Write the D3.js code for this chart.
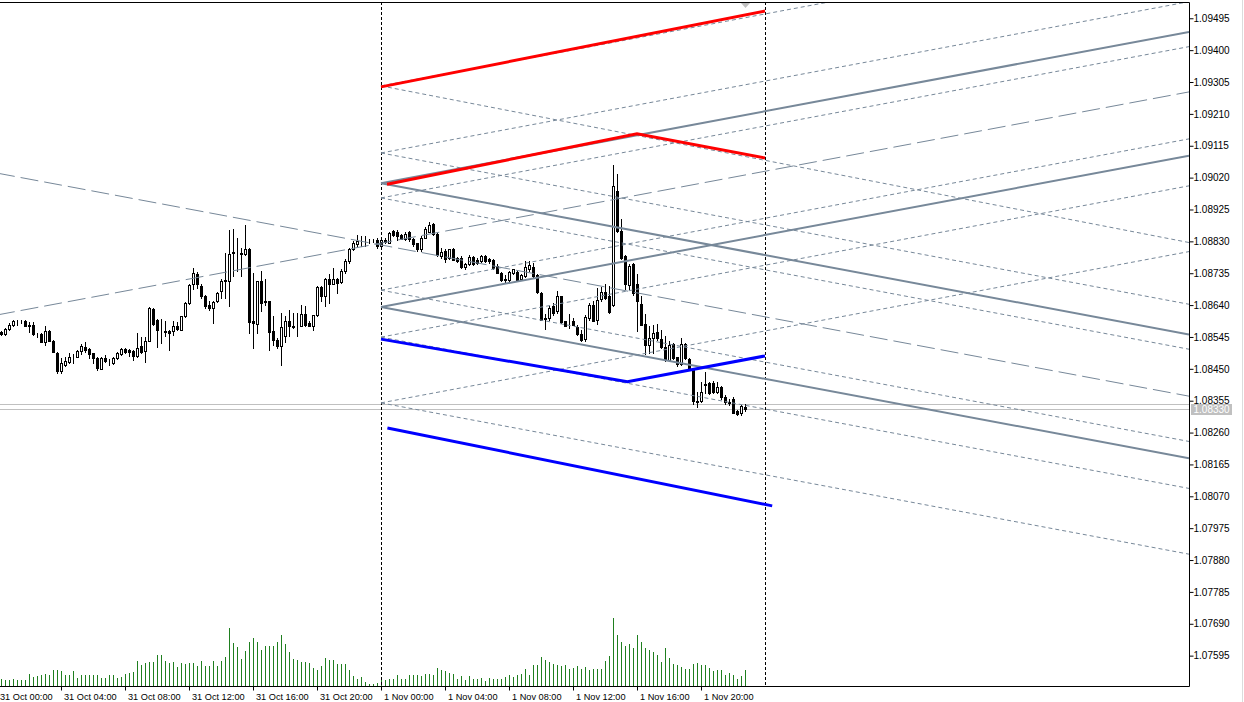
<!DOCTYPE html>
<html>
<head>
<meta charset="utf-8">
<script src="https://cdn.jsdelivr.net/npm/d3@7"></script>
<style>
html, body { margin: 0; padding: 0; background: #fff; overflow: hidden; }
svg { display: block; font-family: "Liberation Sans", Arial, sans-serif; }
</style>
</head>
<body>
<div class="chart"></div>
<script>
const width = 1244;
const height = 702;
const plotRight = 1189;
const plotBottom = 686;
const plotTop = 2;

// EURUSD M15, bars counted from 31 Oct 00:00 (bar 0)
const firstBar = 1;
const opens = [
  1.08557,1.08553,1.08568,1.08580,1.08590,1.08591,1.08592,1.08579,1.08579,1.08553,
  1.08552,1.08527,1.08562,1.08532,1.08497,1.08442,1.08460,1.08470,1.08485,1.08485,
  1.08502,1.08515,1.08507,1.08495,1.08482,1.08448,1.08482,1.08470,1.08465,1.08480,
  1.08493,1.08508,1.08505,1.08502,1.08487,1.08518,1.08502,1.08532,1.08627,1.08593,
  1.08562,1.08562,1.08560,1.08560,1.08577,1.08565,1.08605,1.08645,1.08700,1.08730,
  1.08695,1.08665,1.08640,1.08630,1.08650,1.08680,1.08713,1.08710,1.08797,1.08792,
  1.08795,1.08790,1.08807,1.08590,1.08583,1.08710,1.08647,1.08650,1.08562,1.08533,
  1.08517,1.08545,1.08590,1.08577,1.08575,1.08577,1.08612,1.08585,1.08577,1.08610,
  1.08692,1.08665,1.08717,1.08702,1.08717,1.08707,1.08740,1.08770,1.08805,1.08820,
  1.08827,1.08825,1.08829,1.08829,1.08833,
  1.08815,1.08833,1.08825,1.08860,1.08857,1.08847,1.08837,1.08855,1.08837,1.08823,
  1.08807,1.08840,1.08857,1.08880,1.08850,1.08785,1.08800,1.08780,1.08807,1.08780,
  1.08780,1.08753,1.08760,1.08783,1.08772,1.08770,1.08785,1.08775,1.08772,1.08755,
  1.08735,1.08715,1.08712,1.08735,1.08737,1.08715,1.08725,1.08745,1.08752,1.08727,
  1.08675,1.08600,1.08600,1.08635,1.08620,1.08665,
  1.08590,1.08578,1.08592,1.08572,1.08552,1.08537,1.08600,1.08638,1.08595,
  1.08657,1.08677,1.08667,1.08638,1.08980,1.08860,1.08785,1.08698,1.08762,1.08700,
  1.08642,1.08582,1.08520,1.08540,1.08557,1.08538,1.08515,1.08475,1.08522,1.08485,
  1.08462,1.08522,1.08478,1.08450,1.08352,1.08352,1.08400,1.08407,1.08405,1.08380,
  1.08395,1.08365,1.08350,1.08358,1.08322,1.08318,1.08335
];
const highs = [
  1.08560,1.08569,1.08585,1.08595,1.08595,1.08595,1.08594,1.08587,1.08587,1.08555,
  1.08555,1.08577,1.08565,1.08533,1.08500,1.08480,1.08485,1.08495,1.08493,1.08505,
  1.08522,1.08528,1.08510,1.08497,1.08485,1.08485,1.08490,1.08477,1.08485,1.08500,
  1.08512,1.08512,1.08508,1.08505,1.08555,1.08543,1.08543,1.08633,1.08630,1.08597,
  1.08597,1.08590,1.08565,1.08590,1.08587,1.08607,1.08647,1.08700,1.08750,1.08737,
  1.08700,1.08670,1.08650,1.08650,1.08677,1.08715,1.08795,1.08863,1.08865,1.08840,
  1.08810,1.08877,1.08810,1.08735,1.08710,1.08740,1.08715,1.08652,1.08605,1.08540,
  1.08615,1.08605,1.08625,1.08615,1.08615,1.08640,1.08637,1.08590,1.08610,1.08695,
  1.08695,1.08720,1.08730,1.08750,1.08720,1.08745,1.08775,1.08810,1.08830,1.08847,
  1.08845,1.08843,1.08837,1.08835,1.08840,
  1.08837,1.08840,1.08857,1.08863,1.08863,1.08850,1.08855,1.08860,1.08840,1.08825,
  1.08843,1.08870,1.08885,1.08883,1.08852,1.08810,1.08805,1.08807,1.08809,1.08783,
  1.08785,1.08765,1.08787,1.08785,1.08780,1.08787,1.08787,1.08780,1.08777,1.08760,
  1.08737,1.08727,1.08740,1.08747,1.08740,1.08730,1.08770,1.08770,1.08765,1.08730,
  1.08677,1.08613,1.08637,1.08645,1.08680,1.08667,
  1.08592,1.08612,1.08600,1.08580,1.08565,1.08610,1.08645,1.08650,1.08690,
  1.08692,1.08700,1.08695,1.09055,1.09030,1.08895,1.08788,1.08760,1.08765,1.08730,
  1.08665,1.08612,1.08575,1.08580,1.08582,1.08565,1.08545,1.08530,1.08525,1.08485,
  1.08540,1.08525,1.08480,1.08452,1.08380,1.08410,1.08440,1.08410,1.08412,1.08410,
  1.08397,1.08370,1.08360,1.08365,1.08325,1.08340,1.08345
];
const lows = [
  1.08549,1.08550,1.08565,1.08575,1.08580,1.08585,1.08575,1.08557,1.08550,1.08543,
  1.08527,1.08520,1.08530,1.08498,1.08435,1.08437,1.08457,1.08465,1.08465,1.08483,
  1.08492,1.08500,1.08480,1.08465,1.08445,1.08447,1.08470,1.08460,1.08463,1.08477,
  1.08490,1.08495,1.08487,1.08475,1.08485,1.08495,1.08470,1.08530,1.08580,1.08515,
  1.08525,1.08545,1.08505,1.08550,1.08565,1.08563,1.08603,1.08643,1.08685,1.08690,
  1.08660,1.08630,1.08625,1.08585,1.08647,1.08660,1.08660,1.08635,1.08725,1.08740,
  1.08725,1.08787,1.08555,1.08510,1.08555,1.08620,1.08640,1.08505,1.08520,1.08510,
  1.08460,1.08527,1.08545,1.08570,1.08545,1.08575,1.08575,1.08575,1.08565,1.08605,
  1.08650,1.08635,1.08645,1.08700,1.08675,1.08705,1.08735,1.08765,1.08802,1.08815,
  1.08815,1.08815,1.08825,1.08827,1.08810,
  1.08813,1.08823,1.08823,1.08843,1.08833,1.08835,1.08833,1.08830,1.08815,1.08800,
  1.08800,1.08838,1.08855,1.08848,1.08785,1.08780,1.08767,1.08777,1.08772,1.08768,
  1.08750,1.08747,1.08757,1.08757,1.08760,1.08767,1.08768,1.08763,1.08747,1.08733,
  1.08710,1.08705,1.08707,1.08730,1.08710,1.08713,1.08722,1.08740,1.08723,1.08675,
  1.08593,1.08567,1.08593,1.08610,1.08615,1.08585,
  1.08575,1.08570,1.08578,1.08550,1.08530,1.08532,1.08595,1.08590,1.08582,
  1.08652,1.08658,1.08615,1.08635,1.08855,1.08775,1.08685,1.08685,1.08670,1.08562,
  1.08578,1.08492,1.08495,1.08495,1.08535,1.08512,1.08472,1.08472,1.08477,1.08458,
  1.08460,1.08477,1.08445,1.08345,1.08335,1.08350,1.08375,1.08372,1.08375,1.08375,
  1.08360,1.08345,1.08342,1.08318,1.08312,1.08312,1.08322
];
const closes = [
  1.08552,1.08568,1.08580,1.08590,1.08591,1.08592,1.08577,1.08577,1.08553,1.08552,
  1.08527,1.08562,1.08532,1.08498,1.08442,1.08465,1.08473,1.08485,1.08484,1.08503,
  1.08517,1.08505,1.08493,1.08480,1.08450,1.08482,1.08472,1.08470,1.08482,1.08495,
  1.08507,1.08500,1.08500,1.08487,1.08512,1.08500,1.08532,1.08630,1.08583,1.08565,
  1.08561,1.08557,1.08555,1.08577,1.08567,1.08605,1.08645,1.08698,1.08733,1.08700,
  1.08665,1.08635,1.08630,1.08648,1.08675,1.08710,1.08710,1.08790,1.08793,1.08792,
  1.08790,1.08805,1.08587,1.08585,1.08710,1.08645,1.08652,1.08557,1.08533,1.08517,
  1.08572,1.08592,1.08575,1.08573,1.08577,1.08612,1.08580,1.08577,1.08610,1.08692,
  1.08665,1.08717,1.08702,1.08715,1.08705,1.08740,1.08770,1.08805,1.08823,1.08830,
  1.08826,1.08823,1.08830,1.08830,1.08815,
  1.08833,1.08827,1.08853,1.08847,1.08845,1.08837,1.08850,1.08837,1.08820,1.08807,
  1.08840,1.08865,1.08877,1.08850,1.08787,1.08797,1.08775,1.08805,1.08773,1.08770,
  1.08753,1.08762,1.08783,1.08760,1.08765,1.08785,1.08770,1.08770,1.08750,1.08735,
  1.08712,1.08714,1.08737,1.08745,1.08712,1.08727,1.08753,1.08757,1.08725,1.08677,
  1.08595,1.08598,1.08630,1.08615,1.08665,1.08587,
  1.08577,1.08580,1.08580,1.08552,1.08535,1.08602,1.08638,1.08592,1.08655,
  1.08677,1.08660,1.08618,1.08995,1.08860,1.08780,1.08700,1.08755,1.08675,1.08650,
  1.08580,1.08520,1.08540,1.08555,1.08540,1.08515,1.08475,1.08520,1.08480,1.08462,
  1.08522,1.08480,1.08450,1.08352,1.08350,1.08380,1.08402,1.08375,1.08380,1.08395,
  1.08365,1.08350,1.08347,1.08318,1.08315,1.08337,1.08330
];
const volumes = [
  220,190,190,220,170,170,190,370,270,290,
  340,370,320,490,490,440,340,320,460,250,
  340,340,340,320,340,250,250,340,320,240,
  270,370,400,420,740,640,700,720,720,940,
  940,740,700,720,580,700,670,690,700,610,
  740,610,610,740,610,740,870,1750,1300,1170,
  820,1050,1320,1440,1340,1100,1220,1220,1220,1320,
  1540,1270,1020,820,790,720,720,690,540,490,
  590,850,790,770,670,660,670,470,290,220,
  270,120,50,70,100,
  200,170,200,200,320,200,220,320,340,340,
  290,370,370,320,550,470,440,400,370,220,
  290,170,290,220,220,240,140,250,220,220,
  220,280,340,280,340,370,520,340,640,620,
  870,790,720,670,620,600,640,520,540,600,
  520,570,470,520,520,520,750,900,2050,1550,
  1320,1220,1270,1140,1540,1320,1140,1090,1040,940,
  720,1140,840,670,640,570,520,520,670,700,
  620,620,540,440,490,490,340,400,320,200,
  290,470
];

const priceTicks = [1.07595,1.07690,1.07785,1.07880,1.07975,1.08070,1.08165,1.08260,1.08355,1.08450,
  1.08545,1.08640,1.08735,1.08830,1.08925,1.09020,1.09115,1.09210,1.09305,1.09400,1.09495];
const timeTickBars = [0,16,32,48,64,80,96,112,128,144,160,176];
const timeLabels = ["31 Oct 00:00","31 Oct 04:00","31 Oct 08:00","31 Oct 12:00","31 Oct 16:00","31 Oct 20:00",
  "1 Nov 00:00","1 Nov 04:00","1 Nov 08:00","1 Nov 12:00","1 Nov 16:00","1 Nov 20:00"];
const separatorBars = [96, 192];
const bid = 1.08330;
const ask = 1.08345;

// drawn objects: [bar, price] points
const redLines = [
  [[96, 1.09289], [192, 1.09515]],
  [[97.5, 1.08999], [160, 1.09149], [192, 1.09077]]
];
const blueLines = [
  [[96, 1.08537], [157.6, 1.08410], [192, 1.08487]],
  [[97.6, 1.08272], [193.8, 1.08040]]
];
const channelLines = [
  [[96, 1.09002], [298, 1.08551]],
  [[96, 1.08633], [298, 1.08182]],
  [[96, 1.08633], [298, 1.09084]],
  [[96, 1.09002], [298, 1.09453]]
];
const medianLines = [
  [[0, 1.09032], [298, 1.08367]],
  [[0, 1.08609], [298, 1.09274]]
];
const fanStartBar = 96;
const fanEndBar = 298;
const fanLevels = [1.09292, 1.09092, 1.08958, 1.08683, 1.08543, 1.08347];
const fanRiseEnd = [1.09743, 1.09543, 1.09409, 1.09134, 1.08994, 1.08798];
const fanFallEnd = [1.08825, 1.08641, 1.08507, 1.08232, 1.08092, 1.07896];

const x = d3.scaleLinear().domain([0, 100]).range([-3, 397]);
const y = d3.scaleLinear().domain([1.07503, 1.09548]).range([plotBottom, 0]);
const yVol = d3.scaleLinear().domain([0, 2050]).range([plotBottom, 618]);
const crisp = v => Math.round(v) + 0.5;

const bars = opens.map((o, i) => ({
  bar: firstBar + i, o: o, h: highs[i], l: lows[i], c: closes[i], v: volumes[i]
}));

const svg = d3.select(".chart").append("svg").attr("width", width).attr("height", height);

svg.append("defs").append("clipPath").attr("id", "plot")
  .append("rect").attr("x", 0).attr("y", plotTop).attr("width", plotRight).attr("height", plotBottom - plotTop);

const plot = svg.append("g").attr("clip-path", "url(#plot)");

// bid / ask lines
plot.selectAll(".quote")
  .data([ask, bid])
  .enter()
    .append("line")
    .attr("x1", 0).attr("x2", plotRight)
    .attr("y1", d => crisp(y(d))).attr("y2", d => crisp(y(d)))
    .attr("stroke", "#c0c0c0");

// volumes
plot.selectAll(".vol")
  .data(bars)
  .enter()
    .append("line")
    .attr("x1", d => crisp(x(d.bar))).attr("x2", d => crisp(x(d.bar)))
    .attr("y1", plotBottom).attr("y2", d => Math.round(yVol(d.v)))
    .attr("stroke", "#1f7f1f");

// candles
const candle = plot.selectAll(".candle").data(bars).enter().append("g");
candle.append("line")
  .attr("x1", d => crisp(x(d.bar))).attr("x2", d => crisp(x(d.bar)))
  .attr("y1", d => Math.round(y(d.h))).attr("y2", d => Math.round(y(d.l)) + 1)
  .attr("stroke", "#000");
candle.append("rect")
  .attr("x", d => crisp(x(d.bar)) - 1)
  .attr("width", 2)
  .attr("y", d => crisp(y(Math.max(d.o, d.c))))
  .attr("height", d => Math.max(0, Math.round(y(Math.min(d.o, d.c))) - Math.round(y(Math.max(d.o, d.c)))))
  .attr("fill", d => d.c >= d.o ? "#fff" : "#000")
  .attr("stroke", "#000");

// separators
plot.selectAll(".sep")
  .data(separatorBars)
  .enter()
    .append("line")
    .attr("x1", d => crisp(x(d))).attr("x2", d => crisp(x(d)))
    .attr("y1", plotTop).attr("y2", plotBottom)
    .attr("stroke", "#000")
    .attr("stroke-dasharray", "3,2");

const line = d3.line().x(d => x(d[0])).y(d => y(d[1]));

const fanLines = [];
fanLevels.forEach((p, i) => {
  fanLines.push([[fanStartBar, p], [fanEndBar, fanRiseEnd[i]]]);
  fanLines.push([[fanStartBar, p], [fanEndBar, fanFallEnd[i]]]);
});

plot.selectAll(".fan")
  .data(fanLines)
  .enter()
    .append("path")
    .attr("d", line)
    .attr("fill", "none")
    .attr("stroke", "#778899")
    .attr("stroke-dasharray", "4,3");

plot.selectAll(".median")
  .data(medianLines)
  .enter()
    .append("path")
    .attr("d", line)
    .attr("fill", "none")
    .attr("stroke", "#778899")
    .attr("stroke-dasharray", "18,6");

plot.selectAll(".channel")
  .data(channelLines)
  .enter()
    .append("path")
    .attr("d", line)
    .attr("fill", "none")
    .attr("stroke", "#778899")
    .attr("stroke-width", 2);

plot.selectAll(".red")
  .data(redLines)
  .enter()
    .append("path")
    .attr("d", line)
    .attr("fill", "none")
    .attr("stroke", "#ff0000")
    .attr("stroke-width", 3);

plot.selectAll(".blue")
  .data(blueLines)
  .enter()
    .append("path")
    .attr("d", line)
    .attr("fill", "none")
    .attr("stroke", "#0000ff")
    .attr("stroke-width", 3);

// chart shift marker
const shiftX = crisp(x(bars[bars.length - 1].bar));
svg.append("path")
  .attr("d", `M${shiftX - 4.5},${plotTop + 1}L${shiftX + 4.5},${plotTop + 1}L${shiftX},${plotTop + 6}Z`)
  .attr("fill", "#c0c0c0");

// frame
svg.append("path")
  .attr("d", `M0,${plotTop + 0.5}H${plotRight + 0.5}V${plotBottom + 0.5}H0`)
  .attr("fill", "none")
  .attr("stroke", "#000");

svg.append("line")
  .attr("x1", 1242.5).attr("x2", 1242.5).attr("y1", 0).attr("y2", height)
  .attr("stroke", "#dcdcdc");

// price axis
svg.append("g")
  .attr("transform", `translate(${plotRight + 0.5},0.5)`)
  .call(d3.axisRight(y).tickValues(priceTicks).tickFormat(d3.format(".5f")).tickSize(4).tickPadding(0))
  .call(g => g.select(".domain").remove())
  .call(g => g.selectAll("line").attr("stroke", "#000"))
  .call(g => g.selectAll("text").attr("fill", "#000").style("font-size", "10px").attr("font-family", null));

// time axis
svg.append("g")
  .attr("transform", `translate(0,${plotBottom + 0.5})`)
  .call(d3.axisBottom(x).tickValues(timeTickBars).tickFormat((d, i) => timeLabels[i]).tickSize(4).tickPadding(3))
  .call(g => g.select(".domain").remove())
  .call(g => g.selectAll("line").attr("stroke", "#000"))
  .call(g => g.selectAll("text").attr("fill", "#000").attr("text-anchor", "start").attr("x", 2.5)
    .style("font-size", "9.2px").attr("font-family", null));

// bid label
svg.append("rect")
  .attr("x", plotRight + 2).attr("y", Math.round(y(bid)) - 5)
  .attr("width", 41).attr("height", 11)
  .attr("fill", "#c0c0c0");
svg.append("text")
  .attr("x", plotRight + 4.5).attr("y", Math.round(y(bid)) + 4)
  .attr("fill", "#fff")
  .style("font-size", "10px")
  .text(d3.format(".5f")(bid));
</script>
</body>
</html>
